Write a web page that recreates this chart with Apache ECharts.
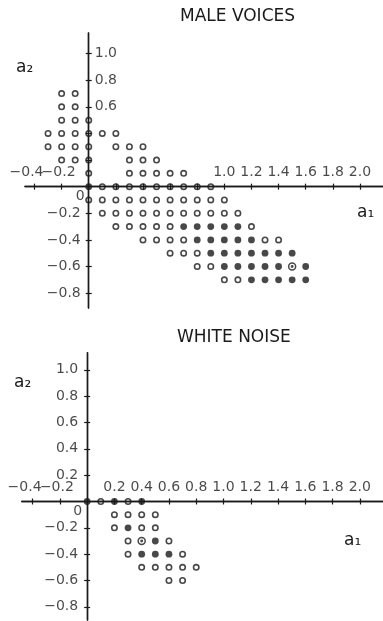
<!DOCTYPE html>
<html>
<head>
<meta charset="utf-8">
<script src="https://cdn.jsdelivr.net/npm/echarts@6/dist/echarts.min.js"></script>
<style>
  html, body { margin: 0; padding: 0; background: #fff; }
  #chart { width: 383px; height: 621px; }
</style>
</head>
<body>
<div id="chart"></div>
<script>
// Coefficient plane (a1, a2): open circles, filled dots and ringed dots.
const maleOpen = [
  [-0.2, 0.7], [-0.1, 0.7],
  [-0.2, 0.6], [-0.1, 0.6],
  [-0.2, 0.5], [-0.1, 0.5], [0.0, 0.5],
  [-0.3, 0.4], [-0.2, 0.4], [-0.1, 0.4], [0.0, 0.4], [0.1, 0.4], [0.2, 0.4],
  [-0.3, 0.3], [-0.2, 0.3], [-0.1, 0.3], [0.0, 0.3], [0.2, 0.3], [0.3, 0.3], [0.4, 0.3],
  [-0.2, 0.2], [-0.1, 0.2], [0.0, 0.2], [0.3, 0.2], [0.4, 0.2], [0.5, 0.2],
  [0.0, 0.1], [0.3, 0.1], [0.4, 0.1], [0.5, 0.1], [0.6, 0.1], [0.7, 0.1],
  [0.1, 0.0], [0.2, 0.0], [0.3, 0.0], [0.4, 0.0], [0.5, 0.0], [0.6, 0.0], [0.7, 0.0], [0.8, 0.0], [0.9, 0.0],
  [0.0, -0.1], [0.1, -0.1], [0.2, -0.1], [0.3, -0.1], [0.4, -0.1], [0.5, -0.1], [0.6, -0.1], [0.7, -0.1], [0.8, -0.1], [0.9, -0.1], [1.0, -0.1],
  [0.1, -0.2], [0.2, -0.2], [0.3, -0.2], [0.4, -0.2], [0.5, -0.2], [0.6, -0.2], [0.7, -0.2], [0.8, -0.2], [0.9, -0.2], [1.0, -0.2], [1.1, -0.2],
  [0.2, -0.3], [0.3, -0.3], [0.4, -0.3], [0.5, -0.3], [0.6, -0.3], [1.2, -0.3],
  [0.4, -0.4], [0.5, -0.4], [0.6, -0.4], [0.7, -0.4], [1.3, -0.4], [1.4, -0.4],
  [0.6, -0.5], [0.7, -0.5], [0.8, -0.5],
  [0.8, -0.6], [0.9, -0.6],
  [1.0, -0.7], [1.1, -0.7]
];
const maleFilled = [
  [0.0, 0.0],
  [0.7, -0.3], [0.8, -0.3], [0.9, -0.3], [1.0, -0.3], [1.1, -0.3],
  [0.8, -0.4], [0.9, -0.4], [1.0, -0.4], [1.1, -0.4], [1.2, -0.4],
  [0.9, -0.5], [1.0, -0.5], [1.1, -0.5], [1.2, -0.5], [1.3, -0.5], [1.4, -0.5], [1.5, -0.5],
  [1.0, -0.6], [1.1, -0.6], [1.2, -0.6], [1.3, -0.6], [1.4, -0.6], [1.6, -0.6],
  [1.2, -0.7], [1.3, -0.7], [1.4, -0.7], [1.5, -0.7], [1.6, -0.7]
];
const maleRinged = [[1.5, -0.6]];

const noiseOpen = [
  [0.1, 0.0], [0.3, 0.0],
  [0.2, -0.1], [0.3, -0.1], [0.4, -0.1], [0.5, -0.1],
  [0.2, -0.2], [0.4, -0.2], [0.5, -0.2],
  [0.3, -0.3], [0.6, -0.3],
  [0.3, -0.4], [0.7, -0.4],
  [0.4, -0.5], [0.5, -0.5], [0.6, -0.5], [0.7, -0.5], [0.8, -0.5],
  [0.6, -0.6], [0.7, -0.6]
];
const noiseFilled = [
  [0.0, 0.0], [0.2, 0.0], [0.4, 0.0],
  [0.3, -0.2],
  [0.5, -0.3],
  [0.4, -0.4], [0.5, -0.4], [0.6, -0.4]
];
const noiseRinged = [[0.4, -0.3]];

// Tick positions and the labelled subset of them
const xTicks = [-0.4, -0.2, 0.2, 0.4, 0.6, 0.8, 1.0, 1.2, 1.4, 1.6, 1.8, 2.0];
const yTicks = [-0.8, -0.6, -0.4, -0.2, 0.2, 0.4, 0.6, 0.8, 1.0];
const maleXLabels = [-0.4, -0.2, 1.0, 1.2, 1.4, 1.6, 1.8, 2.0];
const maleYLabelsRight = [0.6, 0.8, 1.0];
const maleYLabelsLeft = [0, -0.2, -0.4, -0.6, -0.8];
const noiseXLabels = [-0.4, -0.2, 0.2, 0.4, 0.6, 0.8, 1.0, 1.2, 1.4, 1.6, 1.8, 2.0];
const noiseYLabelsLeft = [1.0, 0.8, 0.6, 0.4, 0.2, 0, -0.2, -0.4, -0.6, -0.8];

const titles = ['MALE VOICES', 'WHITE NOISE'];

const INK = '#1a1a1a';
const FONT = 'DejaVu Sans';
const LABEL_SIZE = 14;

function tickText(v) {
  if (Math.abs(v) < 1e-9) return '0';
  const s = Math.abs(v).toFixed(1);
  return v < 0 ? '\u2212' + s : s;
}

// Axis lines pinned to the origin; ticks are split into two halves by
// pairing each axis with a twin that points its ticks the other way.
function xAxisPair(grid, yIndex, min, max) {
  const common = {
    type: 'value', gridIndex: grid, min: min, max: max,
    splitLine: { show: false },
    axisLabel: { show: false },
    axisLine: { show: true, onZero: true, onZeroAxisIndex: yIndex, lineStyle: { color: INK, width: 1.4 } },
    axisTick: { show: true, customValues: xTicks, length: 3, lineStyle: { color: INK, width: 1.2 } }
  };
  return [
    Object.assign({}, common, { position: 'bottom' }),
    Object.assign({}, common, { position: 'top' })
  ];
}

function yAxisPair(grid, xIndex, min, max) {
  const common = {
    type: 'value', gridIndex: grid, min: min, max: max,
    splitLine: { show: false },
    axisLabel: { show: false },
    axisLine: { show: true, onZero: true, onZeroAxisIndex: xIndex, lineStyle: { color: INK, width: 1.4 } },
    axisTick: { show: true, customValues: yTicks, length: 3, lineStyle: { color: INK, width: 1.2 } }
  };
  return [
    Object.assign({}, common, { position: 'left' }),
    Object.assign({}, common, { position: 'right' })
  ];
}

function dots(data, xi, yi, kind) {
  const s = {
    type: 'scatter', data: data, xAxisIndex: xi, yAxisIndex: yi,
    symbol: 'circle', silent: true, z: 5
  };
  if (kind === 'open') {
    s.symbolSize = 5.4;
    s.itemStyle = { color: 'rgba(0,0,0,0)', borderColor: INK, borderWidth: 1.6 };
  } else if (kind === 'filled') {
    s.symbolSize = 6.8;
    s.itemStyle = { color: INK };
  } else if (kind === 'ring') {
    s.symbolSize = 7;
    s.itemStyle = { color: 'rgba(0,0,0,0)', borderColor: INK, borderWidth: 1.5 };
  } else {
    s.symbolSize = 2.8;
    s.itemStyle = { color: INK };
  }
  return s;
}

// Negative labels along a1 hang their minus sign to the left of the tick.
function xShift(v) {
  if (v < -0.3) return -8;
  if (v < 0) return -3;
  return 0;
}

// Tick labels placed at their values on the axes.
function xTickLabels(values, xi, yi) {
  return {
    type: 'scatter', xAxisIndex: xi, yAxisIndex: yi, symbolSize: 0, silent: true, z: 4,
    data: values.map(v => ({ value: [v, 0], label: { offset: [xShift(v), 0] } })),
    label: {
      show: true, position: 'top', distance: 7,
      formatter: p => tickText(p.value[0]),
      color: INK, fontFamily: FONT, fontSize: LABEL_SIZE
    }
  };
}

function yTickLabels(values, xi, yi, side, dist) {
  return {
    type: 'scatter', xAxisIndex: xi, yAxisIndex: yi, symbolSize: 0, silent: true, z: 4,
    data: values.map(v => (Math.abs(v) < 1e-9
      ? { value: [0, v], label: { offset: [4, 10] } }
      : { value: [0, v] })),
    label: {
      show: true, position: side, distance: dist,
      formatter: p => tickText(p.value[1]),
      color: INK, fontFamily: FONT, fontSize: LABEL_SIZE
    }
  };
}

const chart = echarts.init(document.getElementById('chart'), null, { renderer: 'canvas' });

const option = {
  animation: false,
  backgroundColor: '#fff',
  grid: [
    { left: 25, right: 0, top: 33, height: 275, containLabel: false, outerBoundsMode: 'none' },
    { left: 21.7, right: 0, top: 352.7, height: 267.3, containLabel: false, outerBoundsMode: 'none' }
  ],
  xAxis: [].concat(
    xAxisPair(0, 0, -0.47, 2.17),
    xAxisPair(1, 2, -0.48, 2.17)
  ),
  yAxis: [].concat(
    yAxisPair(0, 0, -0.912, 1.155),
    yAxisPair(1, 2, -0.90, 1.13)
  ),
  series: [
    xTickLabels(maleXLabels, 0, 0),
    yTickLabels(maleYLabelsLeft, 0, 0, 'left', 8),
    yTickLabels(maleYLabelsRight, 0, 0, 'right', 6),
    xTickLabels(noiseXLabels, 2, 2),
    yTickLabels(noiseYLabelsLeft, 2, 2, 'left', 9),
    dots(maleOpen, 0, 0, 'open'),
    dots(maleFilled, 0, 0, 'filled'),
    dots(maleRinged, 0, 0, 'ring'),
    dots(maleRinged, 0, 0, 'core'),
    dots(noiseOpen, 2, 2, 'open'),
    dots(noiseFilled, 2, 2, 'filled'),
    dots(noiseRinged, 2, 2, 'ring'),
    dots(noiseRinged, 2, 2, 'core')
  ],
  graphic: [
    { type: 'text', left: 180, top: 8, style: { text: titles[0], fontFamily: FONT, fontSize: 17, fill: INK } },
    { type: 'text', left: 177, top: 329, style: { text: titles[1], fontFamily: FONT, fontSize: 17, fill: INK } },
    { type: 'text', left: 16, top: 59, style: { text: 'a\u2082', fontFamily: FONT, fontSize: 17, fill: INK } },
    { type: 'text', left: 357, top: 204, style: { text: 'a\u2081', fontFamily: FONT, fontSize: 17, fill: INK } },
    { type: 'text', left: 344, top: 532, style: { text: 'a\u2081', fontFamily: FONT, fontSize: 17, fill: INK } },
    { type: 'text', left: 14, top: 374, style: { text: 'a\u2082', fontFamily: FONT, fontSize: 17, fill: INK } }
  ]
};

chart.setOption(option);
</script>
</body>
</html>
